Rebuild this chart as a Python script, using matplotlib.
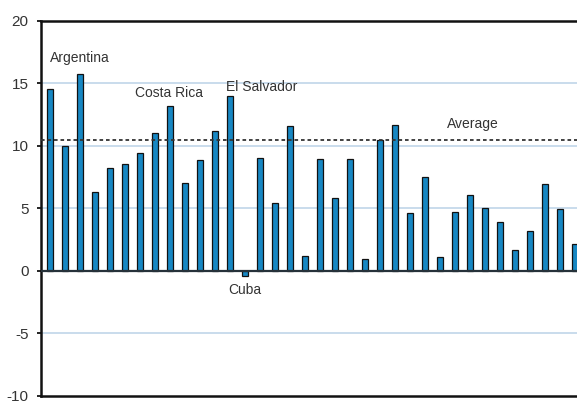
import numpy as np
import matplotlib.pyplot as plt

# ---------------------------------------------------------------
# Data (one bar per country).
# ---------------------------------------------------------------
values = [14.5, 10.0, 15.75, 6.3, 8.2, 8.55, 9.4, 11.05, 13.2, 7.05,
          8.85, 11.15, 13.95, -0.42, 9.05, 5.4, 11.6, 1.15, 8.9, 5.8,
          8.9, 0.95, 10.45, 11.65, 4.65, 7.5, 1.1, 4.7, 6.05, 5.0,
          3.9, 1.65, 3.2, 6.9, 4.95, 2.15]
average = 10.45
yticks = [-10, -5, 0, 5, 10, 15, 20]
gridlines = [-5, 5, 10, 15]

# labels: (text, bar index, y value, alignment)
labels = [("Argentina", 0.0, 17.0, "left"),
          ("Costa Rica", 7.92, 14.2, "center"),
          ("El Salvador", 11.75, 14.65, "left"),
          ("Cuba", 13.0, -1.5, "center"),
          ("Average", 28.2, 11.7, "center")]

# ---------------------------------------------------------------
# Figure setup
# ---------------------------------------------------------------
plt.rcParams['font.family'] = ['Liberation Sans', 'DejaVu Sans']
fig = plt.figure(figsize=(5.77, 4.03), dpi=100)
ax = fig.add_axes([0.0711, 0.0174, 0.9289, 0.9317])

x = np.arange(len(values))
for g in gridlines:
    ax.axhline(g, color='#c9dcec', lw=1.4, zorder=0)
ax.bar(x, values, width=0.4, color='#1787c3', edgecolor='#111111',
       linewidth=0.9, zorder=3)
ax.axhline(0, color='#26323a', lw=1.6, zorder=4)
ax.axhline(average, color='#333333', lw=1.3, linestyle=(0, (2, 1.6)), zorder=5)

for text, xi, yi, ha in labels:
    ax.text(xi, yi, text, ha=ha, va='center', fontsize=10, color='#333333')

ax.set_xlim(-0.58, 35.15)
ax.set_ylim(-10, 20)
ax.set_yticks(yticks)
ax.set_yticklabels([str(t) for t in yticks])
ax.set_xticks([])
ax.tick_params(axis='y', length=3, width=1.2, pad=6, labelsize=11,
               labelcolor='#333333')

for side in ['top', 'left', 'bottom']:
    ax.spines[side].set_linewidth(1.8)
    ax.spines[side].set_color('#111111')
ax.spines['right'].set_visible(False)

fig.savefig("out.png", dpi=100)
